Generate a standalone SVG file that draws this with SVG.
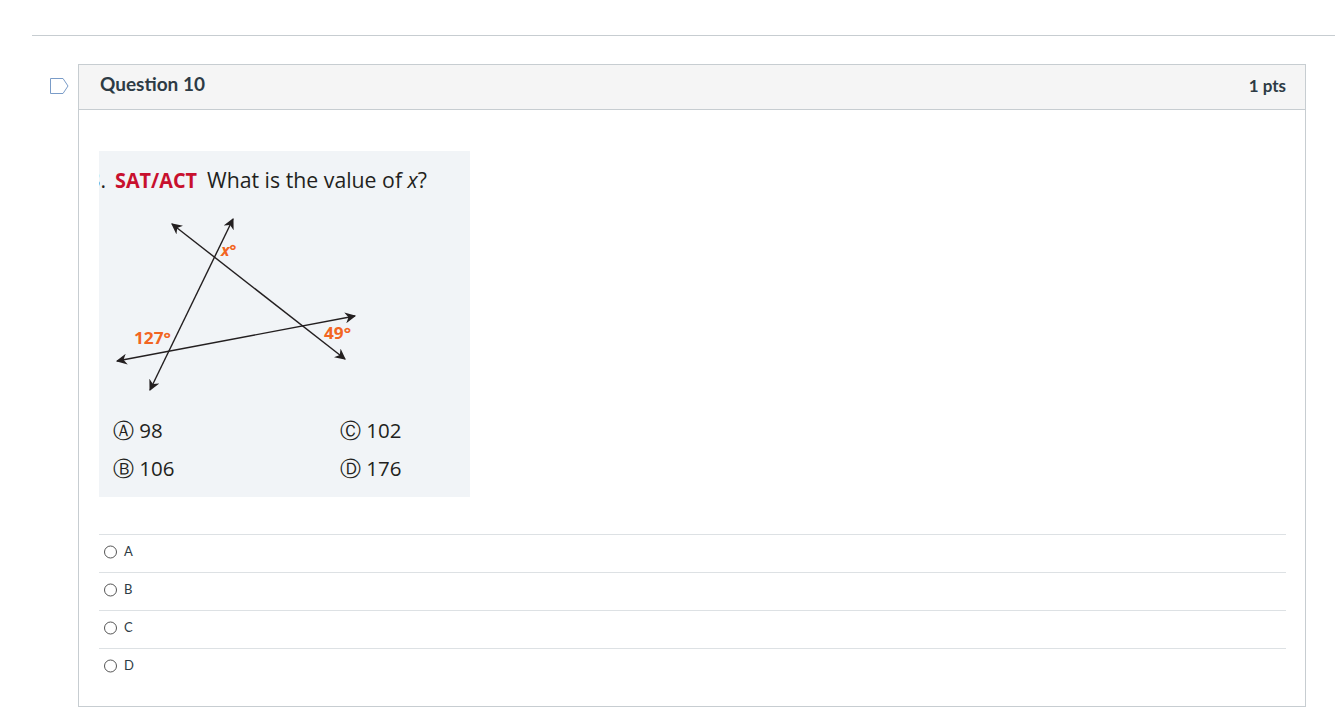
<svg xmlns="http://www.w3.org/2000/svg" width="1335" height="714" viewBox="0 0 1335 714">
<style>
.hdr{font-family:Lato,"Liberation Sans",sans-serif;font-weight:bold;fill:#2d3b45}
.ans{font-family:Lato,"Liberation Sans",sans-serif;font-size:13px;fill:#2d3b45}
.sep{stroke:#dde1e4;stroke-width:1}
.radio{fill:#fff;stroke:#555;stroke-width:1}
.fig{stroke:#231f20;stroke-width:1.4;fill:none}
.ang{font-family:"Open Sans","Noto Sans",sans-serif;font-weight:bold;font-size:16px;fill:#f26522}
.q{font-family:"Open Sans","Noto Sans",sans-serif;font-size:21px;fill:#231f20}
.red{fill:#c8102e;font-weight:bold}
.opt{font-family:"Open Sans","Noto Sans","DejaVu Sans",sans-serif;font-size:20.5px;fill:#231f20}
</style>
<defs>
<marker id="ah" viewBox="0 0 10 10" refX="9" refY="5" markerWidth="11" markerHeight="11" markerUnits="userSpaceOnUse" orient="auto-start-reverse">
<path d="M0,0 L10,5 L0,10 L3,5 Z" fill="#231f20"/>
</marker>
<clipPath id="imgclip"><rect x="99" y="151" width="371" height="346"/></clipPath>
</defs>
<rect width="1335" height="714" fill="#fff"/>
<line x1="32" y1="35.5" x2="1335" y2="35.5" stroke="#c7cdd1"/>
<g id="bookmark"><path d="M50.5,78.5 H63 L68,86 L63,93.5 H50.5 Z" fill="none" stroke="#7a9cc8" stroke-width="1"/></g>
<g id="question-box">
<rect x="78.5" y="64.5" width="1227" height="642" fill="#fff" stroke="#c7cdd1"/>
<rect x="79" y="65" width="1226" height="44" fill="#f5f5f5"/>
<line x1="78.5" y1="109.5" x2="1305.5" y2="109.5" stroke="#c7cdd1"/>
<text class="hdr" x="100" y="91" font-size="19">Question 10</text>
<text class="hdr" x="1286" y="92" font-size="17" text-anchor="end">1 pts</text>
</g>
<g id="image" clip-path="url(#imgclip)">
<rect x="99" y="151" width="371" height="346" fill="#f1f4f7"/>
<text class="q" x="106" y="188" text-anchor="end">3.</text>
<text class="q red" x="115" y="188" textLength="82" lengthAdjust="spacingAndGlyphs">SAT/ACT</text>
<text class="q" x="207" y="188" textLength="220" lengthAdjust="spacingAndGlyphs">What is the value of <tspan font-style="italic">x</tspan>?</text>
<g id="connectors">
<line class="fig" x1="150" y1="390" x2="233" y2="219" marker-start="url(#ah)" marker-end="url(#ah)"/>
<line class="fig" x1="172" y1="224" x2="345" y2="359" marker-start="url(#ah)" marker-end="url(#ah)"/>
<line class="fig" x1="117" y1="361" x2="355" y2="316" marker-start="url(#ah)" marker-end="url(#ah)"/>
</g>
<text class="ang" x="221" y="256" font-style="italic">x°</text>
<text class="ang" x="134" y="344" textLength="37" lengthAdjust="spacingAndGlyphs">127°</text>
<text class="ang" x="324" y="339" textLength="27" lengthAdjust="spacingAndGlyphs">49°</text>
<text class="opt" x="113" y="438">Ⓐ 98</text>
<text class="opt" x="340" y="438">Ⓒ 102</text>
<text class="opt" x="113" y="476">Ⓑ 106</text>
<text class="opt" x="340" y="476">Ⓓ 176</text>
</g>
<g id="answers">
<line class="sep" x1="99" y1="534.5" x2="1286" y2="534.5"/>
<line class="sep" x1="99" y1="572.5" x2="1286" y2="572.5"/>
<line class="sep" x1="99" y1="610.5" x2="1286" y2="610.5"/>
<line class="sep" x1="99" y1="648.5" x2="1286" y2="648.5"/>
<g id="ans-a"><circle class="radio" cx="110.5" cy="552" r="6"/><text class="ans" x="124" y="556">A</text></g>
<g id="ans-b"><circle class="radio" cx="110.5" cy="590" r="6"/><text class="ans" x="124" y="594">B</text></g>
<g id="ans-c"><circle class="radio" cx="110.5" cy="628" r="6"/><text class="ans" x="124" y="632">C</text></g>
<g id="ans-d"><circle class="radio" cx="110.5" cy="666" r="6"/><text class="ans" x="124" y="670">D</text></g>
</g>
</svg>
